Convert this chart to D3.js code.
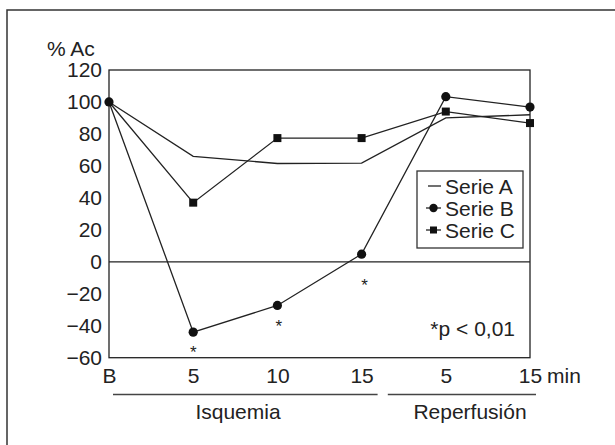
<!DOCTYPE html>
<html>
<head>
<meta charset="utf-8">
<script src="https://cdn.jsdelivr.net/npm/d3@7"></script>
<style>
  body { margin: 0; background: #fff; }
  svg text { font-family: "Liberation Sans", Arial, sans-serif; fill: #222; }
</style>
</head>
<body>
<div class="chartWrap"></div>
<script>
//Data
const categories = ["B", "5", "10", "15", "5", "15"];
const serieA = [100, 66, 61.5, 61.7, 90, 92];
const serieB = [100, -44, -27.3, 4.8, 103.3, 96.8];
const serieC = [100, 37, 77.4, 77.4, 94, 86.8];
const yTicks = [-60, -40, -20, 0, 20, 40, 60, 80, 100, 120];
const sigIndex = [1, 2, 3];          //asterisks under Serie B
const sigLevel = [-54.6, -38.2, -12.6];
const groups = [
  {name: "Isquemia", from: 0, to: 3},
  {name: "Reperfusión", from: 4, to: 5}
];

//Variables
let width = 615,
    height = 445,
    plotL = 109, plotR = 530, plotT = 70, plotB = 357.7,
    fontSize = 21;

let svg = d3.select(".chartWrap").append("svg").attr("width", width).attr("height", height);

//Outer frame (only left & top visible)
svg.append("path")
  .attr("d", "M7,445 L7,10 L615,10")
  .attr("fill", "none").attr("stroke", "#333").attr("stroke-width", 1.5);

let x = d3.scalePoint().domain(d3.range(categories.length)).range([plotL, plotR]);
let y = d3.scaleLinear().domain([-60, 120]).range([plotB, plotT]);

//Y axis labels
let yAxis = d3.axisLeft(y).tickValues(yTicks).tickSize(0).tickPadding(7);
let gy = svg.append("g").attr("transform", "translate(" + plotL + ",0)").call(yAxis);
gy.select(".domain").remove();
gy.selectAll("text").attr("font-size", fontSize).attr("fill", "#222")
  .style("font-family", "Liberation Sans, Arial, sans-serif");

//X axis labels
let xAxis = d3.axisBottom(x).tickSize(0).tickPadding(0).tickFormat(function(i) { return categories[i]; });
let gx = svg.append("g").attr("transform", "translate(0," + (plotB + 10) + ")").call(xAxis);
gx.select(".domain").remove();
gx.selectAll("text").attr("font-size", fontSize).attr("fill", "#222").attr("dy", "0.71em")
  .style("font-family", "Liberation Sans, Arial, sans-serif");
svg.append("text").text("min")
  .attr("x", x(5) + 17).attr("y", plotB + 24.9)
  .attr("font-size", fontSize);

//Plot frame + zero line
svg.append("rect")
  .attr("x", plotL).attr("y", plotT).attr("width", plotR - plotL).attr("height", plotB - plotT)
  .attr("fill", "none").attr("stroke", "#222").attr("stroke-width", 1.3);
svg.append("line")
  .attr("x1", plotL).attr("x2", plotR).attr("y1", y(0)).attr("y2", y(0))
  .attr("stroke", "#222").attr("stroke-width", 1.3);

//Lines
let line = d3.line().x(function(d, i) { return x(i); }).y(function(d) { return y(d); });
[serieA, serieB, serieC].forEach(function(s) {
  svg.append("path").datum(s).attr("d", line)
    .attr("fill", "none").attr("stroke", "#222").attr("stroke-width", 1.3);
});

//Markers
svg.selectAll(".dotB").data(serieB).enter().append("circle")
  .attr("cx", function(d, i) { return x(i); })
  .attr("cy", function(d) { return y(d); })
  .attr("r", 4.6).attr("fill", "#111");
svg.selectAll(".sqC").data(serieC.slice(1)).enter().append("rect")
  .attr("x", function(d, i) { return x(i + 1) - 4; })
  .attr("y", function(d) { return y(d) - 4; })
  .attr("width", 8).attr("height", 8).attr("fill", "#111");

//Asterisks
svg.selectAll(".sig").data(sigIndex).enter().append("text")
  .text("*")
  .attr("x", function(d, i) { return x(d) + i * 1.5; })
  .attr("y", function(d, i) { return y(sigLevel[i]) + 9; })
  .attr("text-anchor", "middle")
  .attr("font-size", 17);

svg.append("text").text("*p < 0,01")
  .attr("x", 515).attr("y", 336)
  .attr("text-anchor", "end")
  .attr("font-size", fontSize);

//Y title
svg.append("text").text("% Ac")
  .attr("x", 47).attr("y", 56)
  .attr("font-size", fontSize);

//Legend
svg.append("rect")
  .attr("x", 417).attr("y", 171).attr("width", 106).attr("height", 77)
  .attr("fill", "#fff").attr("stroke", "#333").attr("stroke-width", 1.3);
let legendRows = [186, 208, 230];
["Serie A", "Serie B", "Serie C"].forEach(function(name, i) {
  let ly = legendRows[i];
  svg.append("line")
    .attr("x1", i == 0 ? 428 : 426).attr("x2", 441).attr("y1", ly).attr("y2", ly)
    .attr("stroke", "#222").attr("stroke-width", 1.3);
  if (i == 1) svg.append("circle").attr("cx", 433.5).attr("cy", ly).attr("r", 4.2).attr("fill", "#111");
  if (i == 2) svg.append("rect").attr("x", 430).attr("y", ly - 3.5).attr("width", 7).attr("height", 7).attr("fill", "#111");
  svg.append("text").text(name)
    .attr("x", 445).attr("y", ly + 7.5)
    .attr("font-size", fontSize);
});

//Group brackets under x axis
groups.forEach(function(g) {
  let x1 = x(g.from) + (g.from == 0 ? 4 : -58);
  let x2 = x(g.to) + (g.to == 5 ? 6 : 16);
  svg.append("line")
    .attr("x1", x1).attr("x2", x2).attr("y1", 394.5).attr("y2", 394.5)
    .attr("stroke", "#444").attr("stroke-width", 1.3);
  svg.append("text").text(g.name)
    .attr("x", g.from == 0 ? 238 : 470).attr("y", 419)
    .attr("text-anchor", "middle")
    .attr("font-size", fontSize);
});
</script>
</body>
</html>
